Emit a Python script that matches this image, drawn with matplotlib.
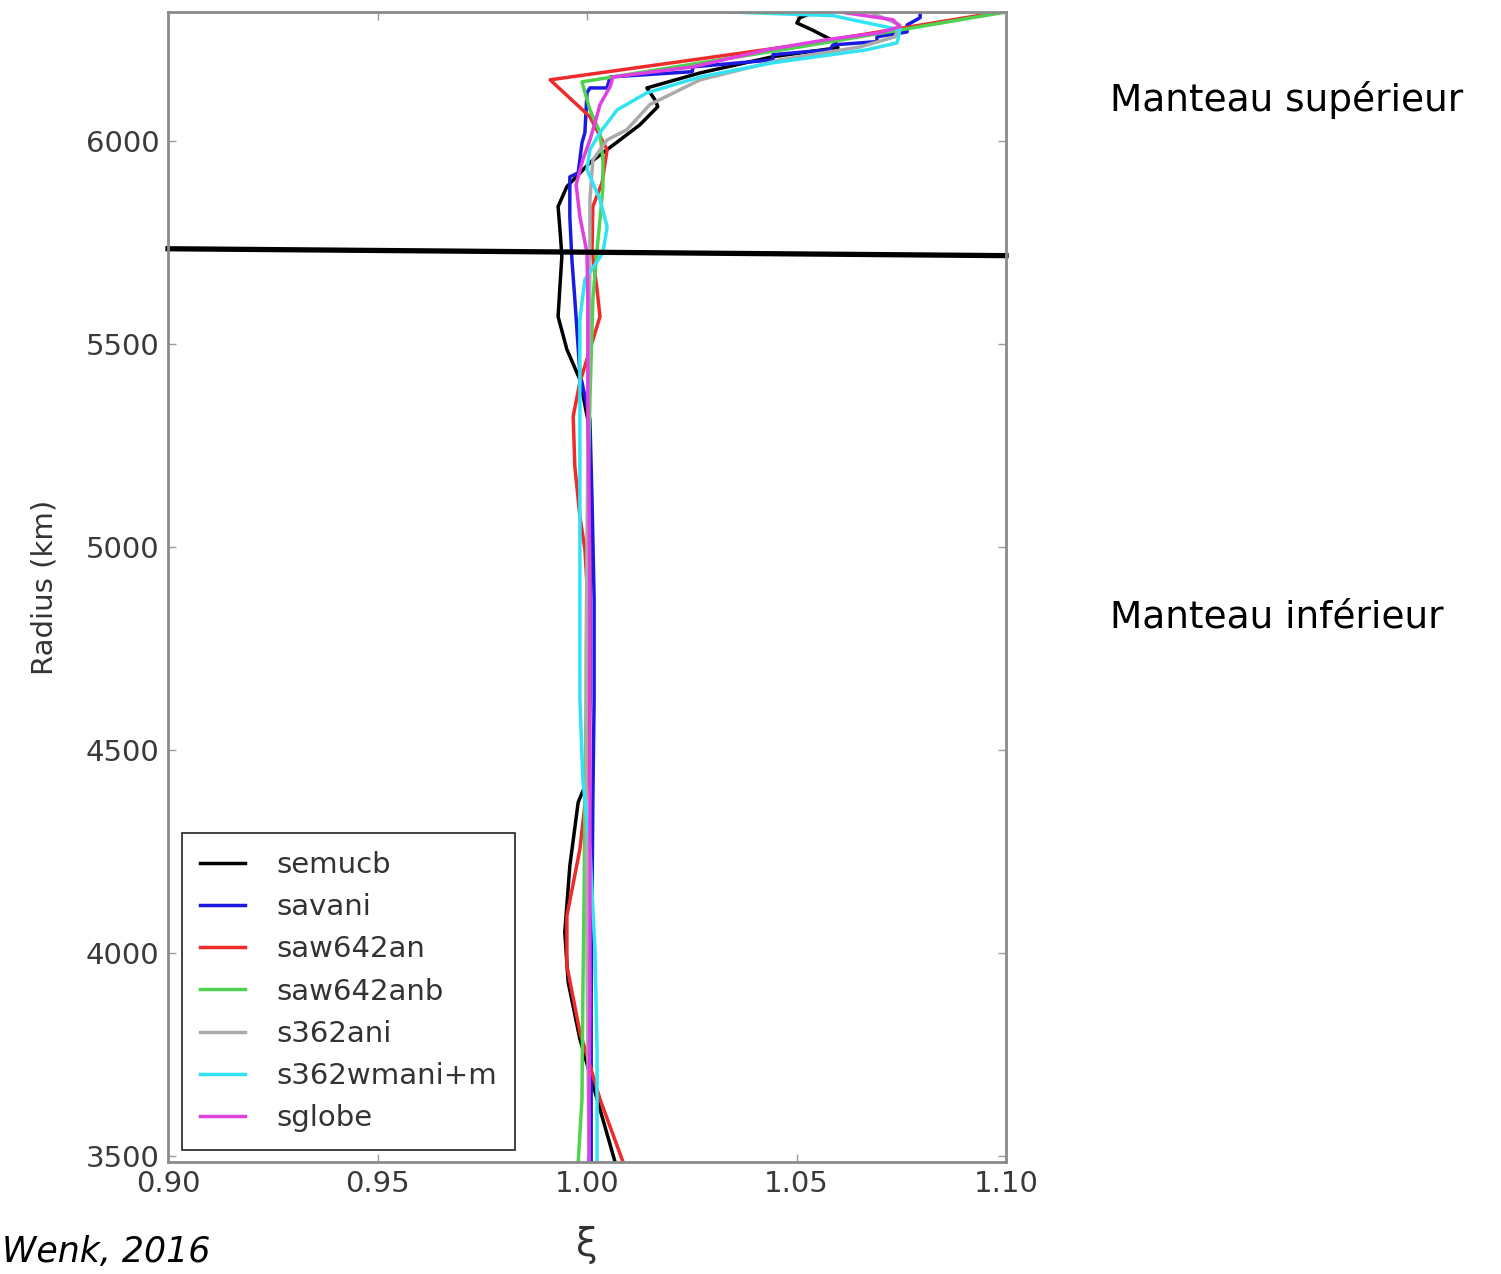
import numpy as np
import matplotlib
matplotlib.use("Agg")
import matplotlib.pyplot as plt

# Radial anisotropy profiles xi(r) for the mantle, one (xi, radius) pair list per model
models = ["semucb", "savani", "saw642an", "saw642anb", "s362ani", "s362wmani+m", "sglobe"]
colors = ["#000000", "#1a1ae0", "#ee2a2a", "#4fd24f", "#aaaaaa", "#33e3f3", "#e040e0"]

semucb_xi = [1.0544, 1.0508, 1.0501, 1.0537, 1.0592, 1.0599, 1.0444, 1.0270, 1.0143, 1.0162,
             1.0169, 1.0126, 1.0048, 1.0007, 0.9952, 0.9931, 0.9936, 0.9940, 0.9936, 0.9931,
             0.9952, 0.9983, 1.0002, 1.0007, 1.0007, 1.0007, 1.0002, 0.9979, 0.9959, 0.9947,
             0.9955, 0.9983, 1.0024, 1.0067]
semucb_r = [6317, 6303, 6290, 6273, 6244, 6229, 6207, 6167, 6130, 6101,
            6084, 6039, 5978, 5946, 5887, 5838, 5774, 5715, 5651, 5567,
            5486, 5412, 5313, 5117, 4871, 4625, 4428, 4371, 4214, 4051,
            3928, 3788, 3640, 3485]

savani_xi = [1.0795, 1.0795, 1.0764, 1.0764, 1.0692, 1.0692, 1.0587, 1.0580, 1.0444, 1.0444,
             1.0253, 1.0251, 1.0055, 1.0048, 1.0007, 1.0000, 0.9995, 0.9988, 0.9979, 0.9959,
             0.9959, 0.9964, 0.9971, 0.9983, 1.0007, 1.0012, 1.0017, 1.0017, 1.0014, 1.0012,
             1.0010, 1.0010, 1.0010]
savani_r = [6320, 6303, 6285, 6268, 6256, 6244, 6236, 6224, 6212, 6199,
            6182, 6170, 6157, 6130, 6130, 6118, 6020, 5995, 5921, 5911,
            5813, 5707, 5609, 5429, 5313, 5117, 4871, 4625, 4378, 4132,
            3886, 3640, 3485]

saw642an_xi = [1.0986, 1.0508, 0.9912, 1.0007, 1.0048, 1.0036, 1.0014, 1.0012, 1.0024, 1.0031,
               1.0007, 0.9983, 0.9967, 0.9971, 0.9983, 0.9995, 1.0002, 1.0005, 1.0002, 0.9983,
               0.9952, 0.9952, 0.9983, 1.0031, 1.0086]
saw642an_r = [6317, 6236, 6150, 6059, 5978, 5897, 5838, 5732, 5633, 5567,
              5486, 5405, 5321, 5198, 5075, 4994, 4871, 4625, 4428, 4255,
              4091, 3968, 3805, 3640, 3485]

saw642anb_xi = [1.1000, 1.0508, 0.9988, 1.0007, 1.0031, 1.0038, 1.0038, 1.0031, 1.0024, 1.0014,
                1.0007, 1.0002, 1.0000, 0.9998, 0.9995, 0.9993, 0.9990, 0.9988, 0.9979]
saw642anb_r = [6317, 6231, 6145, 6076, 6020, 5953, 5887, 5806, 5732, 5609,
               5363, 5117, 4871, 4625, 4378, 4132, 3886, 3640, 3485]

s362ani_xi = [1.0675, 1.0747, 1.0735, 1.0652, 1.0461, 1.0270, 1.0150, 1.0095, 1.0048, 1.0014,
              1.0007, 1.0007, 1.0005, 1.0002, 1.0000, 0.9998, 0.9998, 0.9998, 1.0000, 1.0002,
              1.0005]
s362ani_r = [6317, 6285, 6256, 6231, 6199, 6150, 6089, 6027, 6002, 5953,
             5855, 5724, 5486, 5240, 4994, 4748, 4501, 4255, 4009, 3763,
             3485]

s362wmani_xi = [1.0341, 1.0587, 1.0747, 1.0740, 1.0668, 1.0444, 1.0270, 1.0143, 1.0072, 1.0031,
                1.0007, 1.0000, 1.0031, 1.0048, 1.0038, 0.9995, 0.9983, 0.9983, 0.9983, 0.9983,
                0.9983, 0.9990, 1.0007, 1.0019, 1.0024, 1.0024]
s362wmani_r = [6317, 6308, 6273, 6241, 6224, 6192, 6157, 6118, 6076, 6020,
               5978, 5929, 5855, 5788, 5724, 5658, 5560, 5363, 5117, 4871,
               4625, 4428, 4255, 4009, 3763, 3485]

sglobe_xi = [1.0604, 1.0730, 1.0747, 1.0699, 1.0573, 1.0430, 1.0253, 1.0062, 1.0055, 1.0031,
             1.0019, 1.0007, 0.9990, 0.9974, 0.9983, 1.0000, 1.0002, 1.0002, 1.0005, 1.0007,
             1.0007, 1.0007, 1.0007, 1.0007, 1.0005, 1.0005]
sglobe_r = [6317, 6298, 6281, 6266, 6249, 6224, 6182, 6157, 6133, 6089,
            6044, 6002, 5953, 5892, 5813, 5724, 5609, 5363, 5117, 4871,
            4625, 4378, 4132, 3886, 3640, 3485]

profiles = [(semucb_xi, semucb_r), (savani_xi, savani_r), (saw642an_xi, saw642an_r),
            (saw642anb_xi, saw642anb_r), (s362ani_xi, s362ani_r), (s362wmani_xi, s362wmani_r),
            (sglobe_xi, sglobe_r)]

# Upper / lower mantle boundary line (hand-drawn, slightly tilted)
boundary_xi = [0.90, 1.10]
boundary_r = [5734, 5717]

x_ticks = [0.90, 0.95, 1.00, 1.05, 1.10]
y_ticks = [3500, 4000, 4500, 5000, 5500, 6000]

fig = plt.figure(figsize=(15.01, 12.74), dpi=100)
ax = fig.add_axes([168 / 1501, 1 - 1162 / 1274, 838 / 1501, 1150 / 1274])

for (xi, r), name, c in zip(profiles, models, colors):
    ax.plot(np.array(xi), np.array(r), color=c, lw=2.5, label=name)

ax.plot(boundary_xi, boundary_r, color="black", lw=3.8, label="_nolegend_", clip_on=False)

ax.set_xlim(0.90, 1.10)
ax.set_ylim(3485, 6317)
ax.set_xticks(x_ticks)
ax.set_yticks(y_ticks)
ax.set_xticklabels(["%.2f" % v for v in x_ticks])

for sp in ax.spines.values():
    sp.set_color("#8a8a8a")
    sp.set_linewidth(2.0)
ax.tick_params(direction="in", length=6, width=1, color="#9a9a9a",
               top=True, right=True, labelsize=21, labelcolor="#3a3a3a", pad=6)

ax.set_ylabel("Radius (km)", fontsize=21, color="#333333", labelpad=20)
ax.set_xlabel("ξ", fontsize=28, color="#333333", labelpad=20)

leg = ax.legend(loc="lower left", bbox_to_anchor=(14 / 838, 12 / 1150), borderaxespad=0,
                fontsize=21, labelspacing=0.49, handlelength=1.55, handletextpad=1.1,
                borderpad=0.6, fancybox=False, framealpha=1)
leg.get_frame().set_edgecolor("#222222")
leg.get_frame().set_linewidth(1.2)
for t in leg.get_texts():
    t.set_color("#333333")

# Layer names to the right of the plot
fig.text(1110 / 1501, 1 - 100 / 1274, "Manteau supérieur", fontsize=27, va="center", ha="left")
fig.text(1110 / 1501, 1 - 617 / 1274, "Manteau inférieur", fontsize=27, va="center", ha="left")
fig.text(2 / 1501, 1 - 1252 / 1274, "Wenk, 2016", fontsize=25, style="italic",
         va="center", ha="left")

plt.savefig("out.png", dpi=100)
